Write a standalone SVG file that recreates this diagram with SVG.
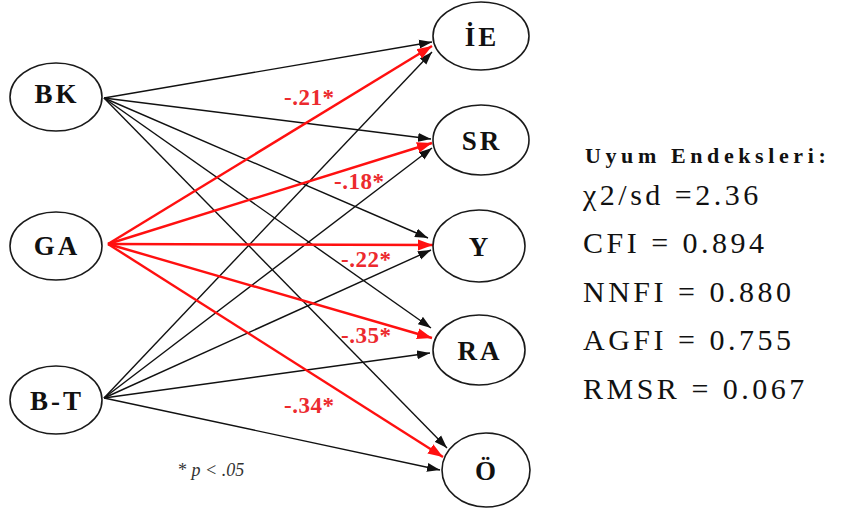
<svg xmlns="http://www.w3.org/2000/svg" width="848" height="517" viewBox="0 0 848 517" font-family="Liberation Serif, Times New Roman, DejaVu Serif, serif">
<defs>
<marker id="ab" markerUnits="userSpaceOnUse" markerWidth="14" markerHeight="10" refX="13" refY="5" orient="auto"><path d="M0,0.5 L13,5 L0,9.5 z" fill="#111"/></marker>
<marker id="ar" markerUnits="userSpaceOnUse" markerWidth="16" markerHeight="12" refX="15" refY="6" orient="auto"><path d="M0,0.5 L15,6 L0,11.5 z" fill="#ff1010"/></marker>
<style>
.node ellipse{fill:#fff;stroke:#1a1a1a;stroke-width:1.6}
.node text{font-weight:bold;font-size:27px;fill:#111;text-anchor:middle;letter-spacing:3px}
.blk{stroke:#111;stroke-width:1.4;fill:none;marker-end:url(#ab)}
.red{stroke:#ff1010;stroke-width:2.4;fill:none;marker-end:url(#ar)}
.lbl{font-weight:bold;font-size:23px;fill:#ec2a2e;letter-spacing:0.5px}
.fit{font-size:30px;fill:#111;letter-spacing:3.5px}
.hdr{font-weight:bold;font-size:22px;fill:#111;letter-spacing:4.6px}
.fn{font-size:18px;fill:#333}
</style>
</defs>
<rect width="848" height="517" fill="#fff"/>
<g id="connectors">
<line class="blk" x1="104" y1="98" x2="432" y2="42"/>
<line class="blk" x1="104" y1="98" x2="431" y2="139"/>
<line class="blk" x1="104" y1="98" x2="428" y2="238"/>
<line class="blk" x1="104" y1="98" x2="431" y2="328"/>
<line class="blk" x1="104" y1="98" x2="447" y2="448"/>
<line class="blk" x1="104" y1="398" x2="432" y2="52"/>
<line class="blk" x1="104" y1="398" x2="432" y2="148"/>
<line class="blk" x1="104" y1="398" x2="431" y2="250"/>
<line class="blk" x1="104" y1="398" x2="430" y2="353"/>
<line class="blk" x1="104" y1="398" x2="440" y2="470"/>
<line class="red" x1="108" y1="244" x2="432" y2="46"/>
<line class="red" x1="108" y1="244" x2="432" y2="143"/>
<line class="red" x1="108" y1="244" x2="433" y2="245"/>
<line class="red" x1="108" y1="244" x2="432" y2="338"/>
<line class="red" x1="108" y1="244" x2="443" y2="457"/>
</g>
<g id="labels">
<text class="lbl" x="284" y="105">-.21*</text>
<text class="lbl" x="334" y="189">-.18*</text>
<text class="lbl" x="341" y="267">-.22*</text>
<text class="lbl" x="341" y="343">-.35*</text>
<text class="lbl" x="284" y="413">-.34*</text>
</g>
<g id="BK" class="node"><ellipse cx="56" cy="97" rx="46" ry="34"/><text x="57" y="103">BK</text></g>
<g id="GA" class="node"><ellipse cx="56" cy="246" rx="46" ry="34"/><text x="57" y="255">GA</text></g>
<g id="BT" class="node"><ellipse cx="56" cy="400" rx="46" ry="34"/><text x="57" y="410">B-T</text></g>
<g id="IE" class="node"><ellipse cx="481" cy="36" rx="48" ry="34"/><text x="482" y="46">İE</text></g>
<g id="SR" class="node"><ellipse cx="481" cy="140" rx="48" ry="35"/><text x="482" y="150">SR</text></g>
<g id="Y" class="node"><ellipse cx="479" cy="246" rx="46" ry="36"/><text x="480" y="256">Y</text></g>
<g id="RA" class="node"><ellipse cx="479" cy="350" rx="46" ry="35"/><text x="480" y="360">RA</text></g>
<g id="O" class="node"><ellipse cx="486" cy="470" rx="44" ry="37"/><text x="487" y="480">Ö</text></g>
<g id="fit">
<text class="hdr" x="585" y="163">Uyum Endeksleri:</text>
<text class="fit" x="583" y="205">χ2/sd =2.36</text>
<text class="fit" x="583" y="253">CFI = 0.894</text>
<text class="fit" x="583" y="302">NNFI = 0.880</text>
<text class="fit" x="583" y="350">AGFI = 0.755</text>
<text class="fit" x="583" y="399">RMSR = 0.067</text>
</g>
<text class="fn" x="178" y="476">* <tspan font-style="italic">p</tspan> <tspan font-style="italic">&lt; .05</tspan></text>
</svg>
